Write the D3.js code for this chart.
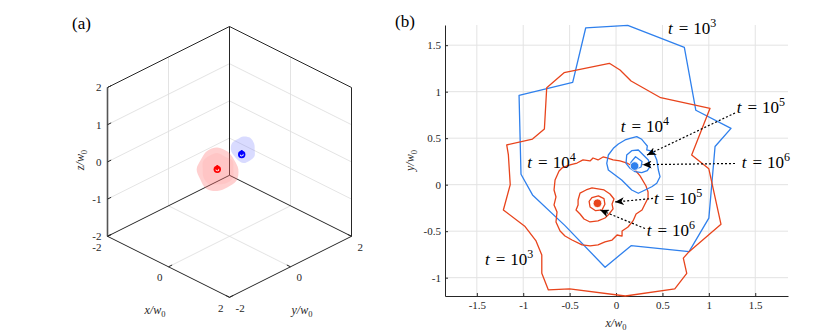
<!DOCTYPE html>
<html>
<head>
<meta charset="utf-8">
<script src="https://cdn.jsdelivr.net/npm/d3@7"></script>
<style>
body { margin: 0; background: #fff; }
</style>
</head>
<body>
<div id="chart"></div>
<script>
"use strict";

// ---------- panel (a) data ----------
const ticksXY3 = [-2, 0, 2];
const ticksZ3 = [-2, -1, 0, 1, 2];
const gridZ3 = [-1, 0, 1];
// isosurface blobs: centre and radius (w0 units) every 30 degrees
const redBlobCentre = [-0.2, -0.2, -0.2];
const redBlobRadii = [0.59, 0.55, 0.52, 0.565, 0.6, 0.555, 0.58, 0.6, 0.53, 0.555, 0.51, 0.565];
const redBlobInner = [0.44, 0.40, 0.47, 0.43, 0.48, 0.44, 0.40, 0.46, 0.43, 0.39, 0.44, 0.42];
const blueBlobCentre = [0.23, 0.23, 0.32];
const blueBlobRadii = [0.36, 0.37, 0.33, 0.30, 0.34, 0.33, 0.35, 0.31, 0.30, 0.34, 0.36, 0.33];
const vortexRed3 = [-0.2, -0.2, -0.2];
const vortexBlue3 = [0.2, 0.2, 0.2];

// ---------- panel (b) data ----------
const xTicksB = [-1.5, -1, -0.5, 0, 0.5, 1, 1.5];
const yTicksB = [-1, -0.5, 0, 0.5, 1, 1.5];

const blue1e3 = [[-1.045,0.961],[-0.467,1.10],[-0.327,1.685],[0.126,1.714],[0.736,1.477],[0.86,0.80],
  [1.239,0.606],[1.067,0.41],[1.00,-0.36],[0.787,-0.72],[0.162,-0.656],[-0.118,-0.888],[-0.55,-0.44],
  [-0.90,-0.11],[-1.024,0.112]];
const red1e3 = [[-1.178,0.427],[-0.90,0.49],[-0.772,0.599],[-0.747,1.043],[-0.56,1.204],[-0.072,1.305],
  [0.043,1.233],[0.162,1.115],[0.481,0.935],[1.013,0.821],[0.815,0.32],[1.0,0.17],[1.131,-0.426],
  [0.787,-0.72],[0.725,-0.79],[0.762,-0.953],[0.633,-1.12],[0.10,-1.197],[-0.50,-1.12],[-0.729,-1.132],
  [-0.80,-0.953],[-0.80,-0.756],[-0.862,-0.605],[-0.98,-0.45],[-1.214,-0.272],[-1.14,0.0],[-1.16,0.32]];
const blue1e4 = [[-0.083,0.319],[-0.029,0.391],[0.025,0.438],[0.097,0.481],[0.151,0.499],[0.223,0.516],
  [0.277,0.488],[0.313,0.445],[0.337,0.416],[0.331,0.373],[0.402,0.355],[0.439,0.266],[0.456,0.158],
  [0.474,0.086],[0.439,0.015],[0.385,-0.022],[0.313,-0.057],[0.240,-0.092],[0.169,-0.057],[0.115,-0.003],
  [0.061,0.051],[-0.011,0.104],[-0.083,0.158],[-0.100,0.230]];
const red1e4 = [[-0.668,-0.057],[-0.657,0.051],[-0.614,0.147],[-0.582,0.180],[-0.496,0.212],[-0.420,0.233],
  [-0.356,0.266],[-0.280,0.255],[-0.248,0.287],[-0.194,0.266],[-0.140,0.298],[-0.097,0.287],[-0.032,0.266],
  [0.043,0.255],[0.119,0.233],[0.172,0.201],[0.205,0.158],[0.259,0.094],[0.323,-0.014],[0.345,-0.078],
  [0.345,-0.143],[0.312,-0.208],[0.280,-0.272],[0.216,-0.315],[0.183,-0.390],[0.129,-0.455],[0.065,-0.498],
  [0.065,-0.552],[0.011,-0.541],[-0.043,-0.595],[-0.119,-0.616],[-0.194,-0.648],[-0.280,-0.659],
  [-0.366,-0.648],[-0.474,-0.595],[-0.550,-0.552],[-0.603,-0.498],[-0.647,-0.401],[-0.636,-0.294],
  [-0.668,-0.218],[-0.647,-0.132]];
const blue1e5 = [[0.115,0.319],[0.169,0.366],[0.240,0.373],[0.294,0.319],[0.348,0.266],[0.366,0.194],
  [0.337,0.151],[0.277,0.129],[0.205,0.140],[0.151,0.176],[0.108,0.230]];
const red1e5 = [[-0.409,-0.165],[-0.388,-0.090],[-0.323,-0.057],[-0.259,-0.035],[-0.194,-0.046],
  [-0.129,-0.057],[-0.065,-0.100],[-0.022,-0.154],[-0.043,-0.208],[-0.032,-0.261],[-0.075,-0.315],
  [-0.119,-0.358],[-0.194,-0.390],[-0.280,-0.401],[-0.345,-0.369],[-0.388,-0.315],[-0.431,-0.272],
  [-0.409,-0.218]];
const blue1e6 = [[0.21,0.30],[0.28,0.25],[0.27,0.19],[0.22,0.17],[0.17,0.18],[0.16,0.24]];
const red1e6 = [[-0.26,-0.14],[-0.19,-0.12],[-0.13,-0.15],[-0.12,-0.21],[-0.15,-0.27],[-0.22,-0.28],
  [-0.28,-0.24],[-0.29,-0.18]];
const vortexB = [{x: 0.2, y: 0.2, c: "blue"}, {x: -0.2, y: -0.2, c: "red"}];

const labelsB = [
  {exp: "3", x: 0.56, y: 1.617}, {exp: "5", x: 1.30, y: 0.774},
  {exp: "4", x: 0.051, y: 0.563}, {exp: "6", x: 1.355, y: 0.183},
  {exp: "4", x: -0.956, y: 0.183}, {exp: "5", x: 0.409, y: -0.208},
  {exp: "6", x: 0.331, y: -0.548}, {exp: "3", x: -1.412, y: -0.863}];
const arrowsB = [
  {x1: 1.282, y1: 0.771, x2: 0.334, y2: 0.319},
  {x1: 1.282, y1: 0.228, x2: 0.286, y2: 0.215},
  {x1: 0.399, y1: -0.148, x2: -0.011, y2: -0.186},
  {x1: 0.312, y1: -0.471, x2: -0.172, y2: -0.272}];

const colors = {blue: "#2f80ed", red: "#e8441c"};
const axisColor = "#262626";
const gridColor = "#e3e3e3";
const serif = "'Liberation Serif'";

const svg = d3.select("#chart").append("svg")
  .attr("width", 831).attr("height", 334)
  .style("font-family", serif);

svg.append("defs").append("marker")
  .attr("id", "head").attr("markerUnits", "userSpaceOnUse")
  .attr("markerWidth", 10).attr("markerHeight", 8)
  .attr("refX", 9).attr("refY", 4).attr("orient", "auto")
  .append("path").attr("d", "M0,0 L9,4 L0,8 L2.5,4 Z").attr("fill", "#000");

// small helper for text with the serif face
function txt(sel, x, y, size) {
  return sel.append("text").attr("x", x).attr("y", y)
    .style("font-family", serif).style("font-size", size + "px").attr("fill", axisColor);
}

// ================= panel (a): 3D box =================
const sumScale = d3.scaleLinear().domain([-4, 4]).range([107.5, 351.5]);   // x + y
const diffScale = d3.scaleLinear().domain([-4, 4]).range([-61, 61]);      // x - y
const zScale = d3.scaleLinear().domain([-2, 2]).range([236.3, 87.5]);
const radScale = d3.scaleLinear().domain([0, 1]).range([0, 37.2]);
function proj(x, y, z) {
  return [sumScale(x + y), zScale(z) + diffScale(x - y)];
}
const ga = svg.append("g");
function seg3(p, q, color, w) {
  const a = proj(...p), b = proj(...q);
  ga.append("line").attr("x1", a[0]).attr("y1", a[1]).attr("x2", b[0]).attr("y2", b[1])
    .attr("stroke", color).attr("stroke-width", w);
}
// grid lines on back walls and floor
gridZ3.forEach(z => {
  seg3([-2, -2, z], [-2, 2, z], "#dcdcdc", 0.8);
  seg3([-2, 2, z], [2, 2, z], "#dcdcdc", 0.8);
});
seg3([-2, 0, -2], [-2, 0, 2], "#dcdcdc", 0.8);
seg3([0, 2, -2], [0, 2, 2], "#dcdcdc", 0.8);
seg3([0, -2, -2], [0, 2, -2], "#dcdcdc", 0.8);
seg3([-2, 0, -2], [2, 0, -2], "#dcdcdc", 0.8);
// box edges
[[[-2,-2,2],[-2,2,2]], [[-2,2,2],[2,2,2]], [[-2,2,-2],[-2,2,2]], [[-2,-2,-2],[-2,2,-2]],
 [[-2,2,-2],[2,2,-2]], [[-2,-2,-2],[2,-2,-2]], [[2,-2,-2],[2,2,-2]], [[2,2,-2],[2,2,2]]]
  .forEach(e => seg3(e[0], e[1], axisColor, 1));
seg3([-2, -2, -2], [-2, -2, 2], "#555", 1.6);
// ticks
ticksXY3.forEach(v => {
  seg3([v, -2, -2], [v, -1.88, -2], axisColor, 1);
  seg3([2, v, -2], [1.88, v, -2], axisColor, 1);
});
ticksZ3.forEach(v => seg3([-2, -2, v], [-2, -1.88, v], axisColor, 1));
// tick labels
ticksXY3.forEach(v => {
  const p = proj(v, -2, -2);
  txt(ga, p[0] - 6, p[1] + 14.5, 11).attr("text-anchor", "end").text(String(v));
  const q = proj(2, v, -2);
  txt(ga, q[0] + 6, q[1] + 14.5, 11).attr("text-anchor", "start").text(String(v));
});
ticksZ3.forEach(v => {
  const p = proj(-2, -2, v);
  txt(ga, p[0] - 6, p[1] + 3.8, 11).attr("text-anchor", "end").text(String(v));
});
function mathLabel(sel, x, y, letter, rotate) {
  const t = txt(sel, 0, 0, 12).attr("text-anchor", "middle")
    .attr("transform", "translate(" + x + "," + y + ")" + (rotate ? " rotate(-90)" : ""));
  t.append("tspan").style("font-style", "italic").text(letter + "/w");
  t.append("tspan").attr("dy", 3).style("font-size", "8.5px").text("0");
}
mathLabel(ga, 155, 314, "x", false);
mathLabel(ga, 302, 314, "y", false);
mathLabel(ga, 84, 160, "z", true);
txt(ga, 72, 29, 17).attr("fill", "#000").text("(a)");

// blobs
function blob(centre, radii, fill, op) {
  const c = proj(...centre);
  const rl = d3.lineRadial()
    .angle((d, i) => i * 2 * Math.PI / radii.length)
    .radius(d => radScale(d))
    .curve(d3.curveCardinalClosed);
  ga.append("path").attr("d", rl(radii))
    .attr("transform", "translate(" + c[0] + "," + c[1] + ")")
    .attr("fill", fill).attr("fill-opacity", op);
}
blob(redBlobCentre, redBlobRadii, "#ff7070", 0.33);
blob(redBlobCentre, redBlobInner, "#ff7070", 0.1);
blob(blueBlobCentre, blueBlobRadii, "#8088ff", 0.3);
function vortex3(pt, color) {
  const c = proj(...pt);
  ga.append("circle").attr("cx", c[0]).attr("cy", c[1] - 3.2).attr("r", 1.2).attr("fill", color);
  ga.append("circle").attr("cx", c[0]).attr("cy", c[1]).attr("r", 3.7).attr("fill", color);
  ga.append("path").attr("d", d3.arc().innerRadius(1.1).outerRadius(1.9).startAngle(1.2).endAngle(4.6)())
    .attr("transform", "translate(" + c[0] + "," + c[1] + ")").attr("fill", "#fff");
}
vortex3(vortexRed3, "#ff0000");
vortex3(vortexBlue3, "#0000ff");

// ================= panel (b): 2D contours =================
const xB = d3.scaleLinear().domain([-1.843, 1.853]).range([445, 788]);
const yB = d3.scaleLinear().domain([-1.197, 1.717]).range([296, 25]);
const gb = svg.append("g");

gb.selectAll(".gx").data(xTicksB).enter().append("line")
  .attr("x1", d => xB(d)).attr("x2", d => xB(d)).attr("y1", yB.range()[0]).attr("y2", yB.range()[1])
  .attr("stroke", gridColor).attr("stroke-width", 1);
gb.selectAll(".gy").data(yTicksB).enter().append("line")
  .attr("y1", d => yB(d)).attr("y2", d => yB(d)).attr("x1", xB.range()[0]).attr("x2", xB.range()[1])
  .attr("stroke", gridColor).attr("stroke-width", 1);

const xAxis = gb.append("g").attr("transform", "translate(0,296)")
  .call(d3.axisBottom(xB).tickValues(xTicksB).tickSizeInner(-3).tickSizeOuter(0)
    .tickPadding(5).tickFormat(d => String(d)));
const yAxis = gb.append("g").attr("transform", "translate(445,0)")
  .call(d3.axisLeft(yB).tickValues(yTicksB).tickSizeInner(-3).tickSizeOuter(0)
    .tickPadding(4).tickFormat(d => String(d)));
[xAxis, yAxis].forEach(a => {
  a.attr("font-family", null);
  a.select(".domain").attr("stroke", axisColor);
  a.selectAll(".tick line").attr("stroke", axisColor);
  a.selectAll("text").attr("fill", axisColor)
    .style("font-family", serif).style("font-size", "11px");
});
mathLabel(gb, 616, 327, "x", false);
mathLabel(gb, 414, 160.5, "y", true);
txt(gb, 395, 27, 17).attr("fill", "#000").text("(b)");

const line = d3.line().x(d => xB(d[0])).y(d => yB(d[1])).curve(d3.curveLinearClosed);
const curves = [
  [blue1e3, "blue"], [red1e3, "red"], [red1e4, "red"], [blue1e4, "blue"],
  [red1e5, "red"], [blue1e5, "blue"], [red1e6, "red"], [blue1e6, "blue"]];
curves.forEach(c => {
  gb.append("path").attr("d", line(c[0])).attr("fill", "none")
    .attr("stroke", colors[c[1]]).attr("stroke-width", 1.3).attr("stroke-linejoin", "round");
});
gb.selectAll(".vort").data(vortexB).enter().append("circle")
  .attr("cx", d => xB(d.x)).attr("cy", d => yB(d.y)).attr("r", 4.3)
  .attr("fill", d => colors[d.c]).attr("stroke", "#fff").attr("stroke-width", 0.8);

gb.selectAll(".arr").data(arrowsB).enter().append("line")
  .attr("x1", d => xB(d.x1)).attr("y1", d => yB(d.y1))
  .attr("x2", d => xB(d.x2)).attr("y2", d => yB(d.y2))
  .attr("stroke", "#000").attr("stroke-width", 1.2).attr("stroke-dasharray", "2,2")
  .attr("marker-end", "url(#head)");

labelsB.forEach(d => {
  const t = txt(gb, xB(d.x), yB(d.y), 17).attr("fill", "#000");
  t.append("tspan").style("font-style", "italic").text("t");
  t.append("tspan").attr("dx", 6).text("=");
  t.append("tspan").attr("dx", 5).text("10");
  t.append("tspan").attr("dy", -7).style("font-size", "12px").text(d.exp);
});
</script>
</body>
</html>
